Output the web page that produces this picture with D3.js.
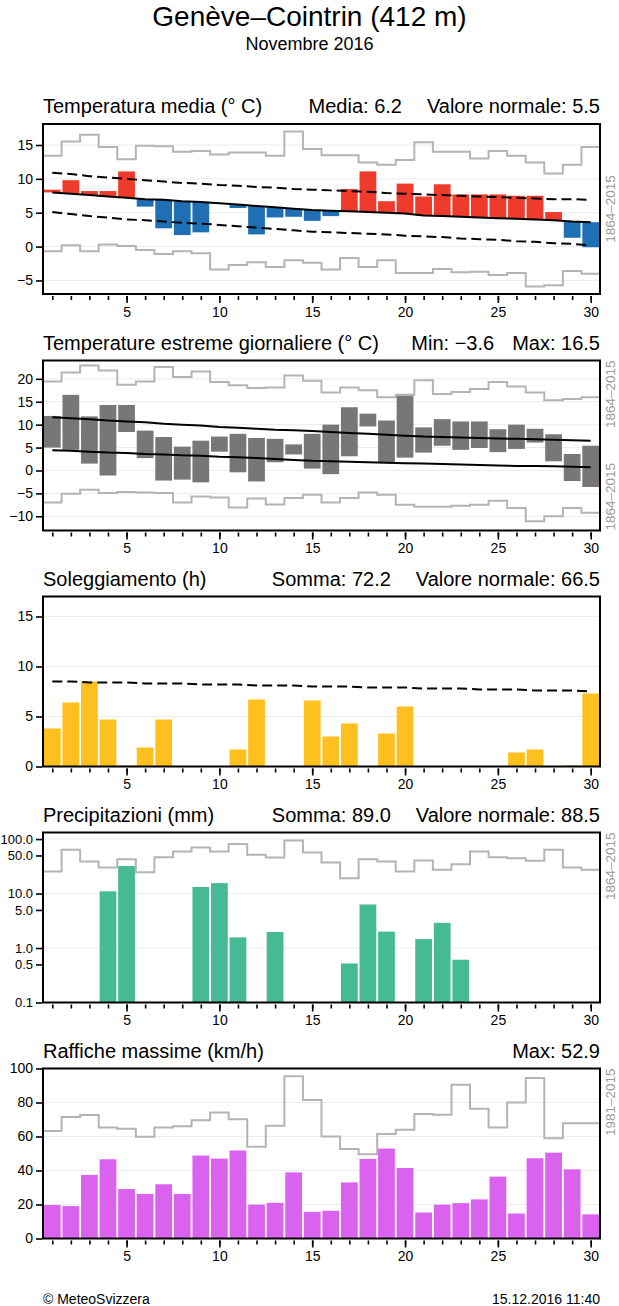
<!DOCTYPE html>
<html><head><meta charset="utf-8">
<script src="https://cdn.jsdelivr.net/npm/d3@7/dist/d3.min.js"></script>
<style>
body{margin:0;background:#fff;}
svg text{font-family:"Liberation Sans",Arial,Helvetica,sans-serif;}
</style>
</head><body>
<svg id="c" width="619" height="1306"></svg>
<script>
// ---------- DATA ----------
const days = [1,2,3,4,5,6,7,8,9,10,11,12,13,14,15,16,17,18,19,20,21,22,23,24,25,26,27,28,29,30];
const xTickLabels = [5,10,15,20,25,30];

// Temperatura media
const tempMean   = [8.4,9.8,8.2,8.2,11.1,5.9,2.7,1.7,2.1,6.3,5.7,1.8,4.3,4.4,3.8,4.5,8.5,11.1,6.7,9.3,7.4,9.2,7.7,7.7,7.7,7.5,7.5,5.1,1.3,-0.1];
const tempNorm   = [8.0,7.8,7.6,7.4,7.2,7.0,6.9,6.7,6.6,6.4,6.2,6.0,5.8,5.6,5.4,5.3,5.2,5.1,5.0,4.9,4.6,4.5,4.4,4.3,4.2,4.1,4.0,3.9,3.7,3.6];
const tempUpper  = [10.9,10.7,10.4,10.2,10.0,9.8,9.6,9.4,9.3,9.1,9.0,8.8,8.7,8.5,8.4,8.3,8.2,8.1,7.9,7.8,7.7,7.6,7.5,7.4,7.3,7.2,7.1,7.0,7.0,6.9];
const tempLower  = [5.1,4.8,4.5,4.3,4.0,3.9,3.7,3.5,3.4,3.2,3.0,2.8,2.6,2.4,2.2,2.1,2.0,1.9,1.8,1.6,1.5,1.4,1.2,1.1,1.0,0.8,0.7,0.5,0.4,0.2];
const tempRecMax = [13.4,15.5,16.5,14.7,12.9,14.9,14.8,14.0,14.1,13.6,13.9,13.9,13.4,17.0,14.4,13.5,13.5,12.4,12.1,12.8,15.4,14.0,14.0,13.0,14.1,13.4,12.4,10.8,12.1,14.7];
const tempRecMin = [-0.7,0.2,-0.7,0.3,0.1,-0.5,-1.1,-0.7,-1.0,-3.4,-2.7,-2.3,-3.0,-2.0,-2.4,-3.4,-1.7,-3.0,-2.0,-3.9,-3.9,-3.3,-3.8,-3.7,-4.2,-3.9,-5.9,-5.7,-3.6,-4.0];
const tempTicks  = [-5,0,5,10,15];

// Temperature estreme
const extMax    = [11.9,16.5,11.8,14.3,14.3,8.7,7.3,5.2,6.5,7.4,8.0,7.1,6.9,5.7,8.0,10.0,13.8,12.4,10.9,16.3,9.4,11.2,10.7,10.7,9.0,10.0,9.1,7.9,3.6,5.4];
const extMin    = [5.0,4.5,1.5,-1.1,8.4,2.7,-2.2,-2.0,-2.6,4.1,-0.4,-2.4,1.8,3.5,0.4,-0.8,3.1,9.6,1.7,2.8,3.9,5.4,4.5,4.9,4.0,4.7,6.1,2.0,-2.3,-3.6];
const extNormMax= [11.6,11.4,11.2,10.9,10.7,10.5,10.2,10.0,9.8,9.5,9.3,9.1,8.9,8.8,8.6,8.4,8.2,8.0,7.8,7.6,7.4,7.3,7.2,7.1,7.0,6.9,6.8,6.7,6.6,6.5];
const extNormMin= [4.4,4.3,4.1,3.9,3.8,3.6,3.5,3.3,3.2,3.0,2.9,2.7,2.5,2.3,2.1,2.0,1.9,1.8,1.7,1.6,1.5,1.4,1.3,1.2,1.1,1.0,0.95,0.9,0.8,0.7];
const extRecMax = [19.4,21.4,22.9,21.8,18.7,19.4,22.6,20.4,21.6,19.3,18.6,18.0,18.1,20.7,19.6,17.0,18.1,17.5,16.0,16.5,19.7,16.7,17.1,17.8,19.3,18.3,17.0,15.3,15.6,16.0];
const extRecMin = [-7.0,-5.1,-4.2,-4.9,-4.7,-4.8,-4.9,-7.0,-5.7,-5.9,-8.1,-6.1,-7.4,-6.0,-5.3,-7.0,-6.0,-4.8,-5.3,-7.5,-7.9,-7.9,-7.7,-7.5,-6.6,-8.2,-11.1,-10.0,-8.2,-9.2];
const extTicks  = [-10,-5,0,5,10,15,20];

// Soleggiamento
const sun       = [3.8,6.4,8.5,4.7,0.1,1.9,4.7,0,0,0,1.7,6.7,0,0,6.6,3.0,4.3,0,3.3,6.0,0,0,0,0,0,1.4,1.7,0,0.1,7.3];
const sunNorm   = [8.5,8.5,8.4,8.4,8.4,8.3,8.3,8.3,8.2,8.2,8.2,8.1,8.1,8.1,8.0,8.0,8.0,7.9,7.9,7.9,7.8,7.8,7.8,7.7,7.7,7.7,7.6,7.6,7.6,7.5];
const sunTicks  = [0,5,10,15];

// Precipitazioni
const prec      = [0,0,0,11.0,32.0,0,0,0,13.2,15.5,1.57,0,1.97,0,0,0,0.52,6.3,2.0,0,1.46,2.9,0.61,0,0,0,0,0,0,0];
const precRec   = [25.3,63.6,38.7,30.0,42.8,24.6,46.5,59.3,70.3,59.3,80.9,51.4,45.9,94.6,56.8,37.1,19.0,42.8,38.7,25.3,40.4,27.2,34.5,59.3,46.5,44.6,39.8,63.6,30.0,27.2];
const precTicks = [0.1,0.5,1,5,10,50,100];
const precGrid  = [1,10,100];

// Raffiche massime
const gust      = [19.7,19.1,37.4,46.6,29.1,26.2,31.9,26.2,48.8,47.0,51.8,19.9,21.0,38.9,15.7,16.3,33.0,46.8,52.9,41.5,15.3,19.9,20.8,23.0,36.4,14.7,47.2,50.5,40.7,14.2];
const gustRec   = [63.3,71.4,72.6,65.3,64.5,59.8,65.3,66.1,69.6,74.1,70.2,53.9,66.3,95.4,81.4,60.0,52.7,49.6,61.4,63.9,73.2,72.8,90.5,76.3,65.3,80.0,94.4,59.0,67.8,67.8];
const gustTicks = [0,20,40,60,80,100];

// ---------- DRAWING ----------
const svg = d3.select("#c");
const L = 43, R = 600, PH = 170;
const tops = [124, 360.5, 596.5, 832.5, 1068.5];
const x = d3.scaleLinear().domain([0.5, 30.5]).range([L, R]);
const bw = (x(2) - x(1)) - 1.8;

const C = {red:"#EF3B2B", blue:"#1F6FB4", gray:"#777777", yellow:"#FDC01F", green:"#46B995", magenta:"#D963EF", rec:"#B4B4B4", grid:"#ECECEC", lab:"#9A9A9A"};

// Main titles
svg.append("text").attr("x",309.5).attr("y",26).attr("text-anchor","middle").attr("font-size",28).text("Genève–Cointrin (412 m)");
svg.append("text").attr("x",309.5).attr("y",50).attr("text-anchor","middle").attr("font-size",18).text("Novembre 2016");

function panel(k, y, grid) {
  const top = tops[k], bot = top + PH;
  y.range([bot, top]);
  const g = svg.append("g");
  g.selectAll("line.grid").data(grid).join("line").attr("class","grid")
    .attr("x1",L).attr("x2",R).attr("y1",d=>y(d)).attr("y2",d=>y(d))
    .attr("stroke",C.grid).attr("stroke-width",1);
  return {g, y, top, bot};
}

function titles(p, left, rightA, rightB, gap) {
  const by = p.top - 11;
  p.g.append("text").attr("x",L).attr("y",by).attr("font-size",20).text(left);
  let end = R;
  if (rightB) {
    const t = p.g.append("text").attr("x",R).attr("y",by).attr("font-size",20).attr("text-anchor","end").text(rightB);
    end = R - t.node().getComputedTextLength() - gap;
  }
  p.g.append("text").attr("x",end).attr("y",by).attr("font-size",20).attr("text-anchor","end").text(rightA);
}

function finish(p, ticks, fmt, fs) {
  p.g.append("rect").attr("x",L).attr("y",p.top).attr("width",R-L).attr("height",PH)
    .attr("fill","none").attr("stroke","#000").attr("stroke-width",2);
  const ya = p.g.append("g").attr("transform",`translate(${L-1},0)`)
    .call(d3.axisLeft(p.y).tickValues(ticks).tickFormat(fmt).tickSize(6).tickPadding(3));
  ya.select(".domain").remove();
  ya.selectAll("line").attr("stroke","#000").attr("stroke-width",1.6);
  ya.selectAll("text").attr("font-size",fs||14).attr("fill","#000").style("font-family",'"Liberation Sans",Arial,sans-serif');
  const xa = p.g.append("g").attr("transform",`translate(0,${p.bot+2})`)
    .call(d3.axisBottom(x).tickValues(days).tickFormat("").tickSize(4));
  xa.select(".domain").remove();
  xa.selectAll("line").attr("stroke","#000").attr("stroke-width",1.6);
  const xb = p.g.append("g").attr("transform",`translate(0,${p.bot+2})`)
    .call(d3.axisBottom(x).tickValues(xTickLabels).tickFormat(d3.format("d")).tickSize(7).tickPadding(4));
  xb.select(".domain").remove();
  xb.selectAll("line").attr("stroke","#000").attr("stroke-width",1.6);
  xb.selectAll("text").attr("font-size",14).attr("fill","#000").style("font-family",'"Liberation Sans",Arial,sans-serif');
}

function sideLabel(p, txt, mode) {
  const t = p.g.append("text").attr("font-size",13.5).attr("fill",C.lab).text(txt);
  let yc, anchor;
  if (mode === "mid") { yc = (p.top + p.bot)/2; anchor = "middle"; }
  else if (mode === "top") { yc = p.top; anchor = "end"; }
  else { yc = p.bot; anchor = "start"; }
  t.attr("text-anchor",anchor).attr("transform",`translate(615,${yc}) rotate(-90)`);
}

function stepPath(p, vals) {
  const pts = [[0.5, vals[0]]].concat(days.map((d,i)=>[d, vals[i]])).concat([[30.5, vals[vals.length-1]]]);
  p.g.append("path").datum(pts)
    .attr("d", d3.line().x(d=>x(d[0])).y(d=>p.y(d[1])).curve(d3.curveStep))
    .attr("fill","none").attr("stroke",C.rec).attr("stroke-width",2);
}

function linePath(p, vals, dashed) {
  p.g.append("path").datum(days.map((d,i)=>[d, vals[i]]))
    .attr("d", d3.line().x(d=>x(d[0])).y(d=>p.y(d[1])))
    .attr("fill","none").attr("stroke","#000").attr("stroke-width",2)
    .attr("stroke-dasharray", dashed ? "10,5" : null);
}

const fmt0 = d => (d < 0 ? "−" + Math.abs(d) : String(d));

// Panel 1: Temperatura media
{
  const p = panel(0, d3.scaleLinear().domain([-7.0, 18.1]), tempTicks);
  stepPath(p, tempRecMax);
  stepPath(p, tempRecMin);
  p.g.selectAll("rect.b").data(days).join("rect").attr("class","b")
    .attr("x", d => x(d) - bw/2).attr("width", bw)
    .attr("y", (d,i) => p.y(Math.max(tempMean[i], tempNorm[i])))
    .attr("height", (d,i) => Math.abs(p.y(tempMean[i]) - p.y(tempNorm[i])))
    .attr("fill", (d,i) => tempMean[i] >= tempNorm[i] ? C.red : C.blue);
  linePath(p, tempUpper, true);
  linePath(p, tempLower, true);
  linePath(p, tempNorm, false);
  finish(p, tempTicks, fmt0);
  titles(p, "Temperatura media (° C)", "Media: 6.2", "Valore normale: 5.5", 25);
  sideLabel(p, "1864–2015", "mid");
}

// Panel 2: Temperature estreme
{
  const p = panel(1, d3.scaleLinear().domain([-13.1, 24.0]), extTicks);
  stepPath(p, extRecMax);
  stepPath(p, extRecMin);
  p.g.selectAll("rect.b").data(days).join("rect").attr("class","b")
    .attr("x", d => x(d) - bw/2).attr("width", bw)
    .attr("y", (d,i) => p.y(extMax[i]))
    .attr("height", (d,i) => p.y(extMin[i]) - p.y(extMax[i]))
    .attr("fill", C.gray);
  linePath(p, extNormMax, false);
  linePath(p, extNormMin, false);
  finish(p, extTicks, fmt0);
  titles(p, "Temperature estreme giornaliere (° C)", "Min: −3.6", "Max: 16.5", 18);
  sideLabel(p, "1864–2015", "top");
  sideLabel(p, "1864–2015", "bottom");
}

// Panel 3: Soleggiamento
{
  const p = panel(2, d3.scaleLinear().domain([0, 17]), [5,10,15]);
  p.g.selectAll("rect.b").data(days.filter((d,i)=>sun[i]>0)).join("rect").attr("class","b")
    .attr("x", d => x(d) - bw/2).attr("width", bw)
    .attr("y", d => p.y(sun[d-1]))
    .attr("height", d => p.y(0) - p.y(sun[d-1]))
    .attr("fill", C.yellow);
  linePath(p, sunNorm, true);
  finish(p, sunTicks, fmt0);
  titles(p, "Soleggiamento (h)", "Somma: 72.2", "Valore normale: 66.5", 25);
}

// Panel 4: Precipitazioni
{
  const p = panel(3, d3.scaleLog().domain([0.1, 132]), precGrid);
  stepPath(p, precRec);
  p.g.selectAll("rect.b").data(days.filter((d,i)=>prec[i]>0.1)).join("rect").attr("class","b")
    .attr("x", d => x(d) - bw/2).attr("width", bw)
    .attr("y", d => p.y(prec[d-1]))
    .attr("height", d => p.y(0.1) - p.y(prec[d-1]))
    .attr("fill", C.green);
  finish(p, precTicks, d3.format(".1f"), 13);
  titles(p, "Precipitazioni (mm)", "Somma: 89.0", "Valore normale: 88.5", 25);
  sideLabel(p, "1864–2015", "top");
}

// Panel 5: Raffiche massime
{
  const p = panel(4, d3.scaleLinear().domain([0, 100]), [20,40,60,80]);
  stepPath(p, gustRec);
  p.g.selectAll("rect.b").data(days).join("rect").attr("class","b")
    .attr("x", d => x(d) - bw/2).attr("width", bw)
    .attr("y", (d,i) => p.y(gust[i]))
    .attr("height", (d,i) => p.y(0) - p.y(gust[i]))
    .attr("fill", C.magenta);
  finish(p, gustTicks, fmt0);
  titles(p, "Raffiche massime (km/h)", "Max: 52.9", null, 0);
  sideLabel(p, "1981–2015", "top");
}

// Footer
svg.append("text").attr("x",L).attr("y",1304).attr("font-size",14).text("© MeteoSvizzera");
svg.append("text").attr("x",R).attr("y",1304).attr("font-size",14).attr("text-anchor","end").text("15.12.2016 11:40");
</script>
</body></html>
